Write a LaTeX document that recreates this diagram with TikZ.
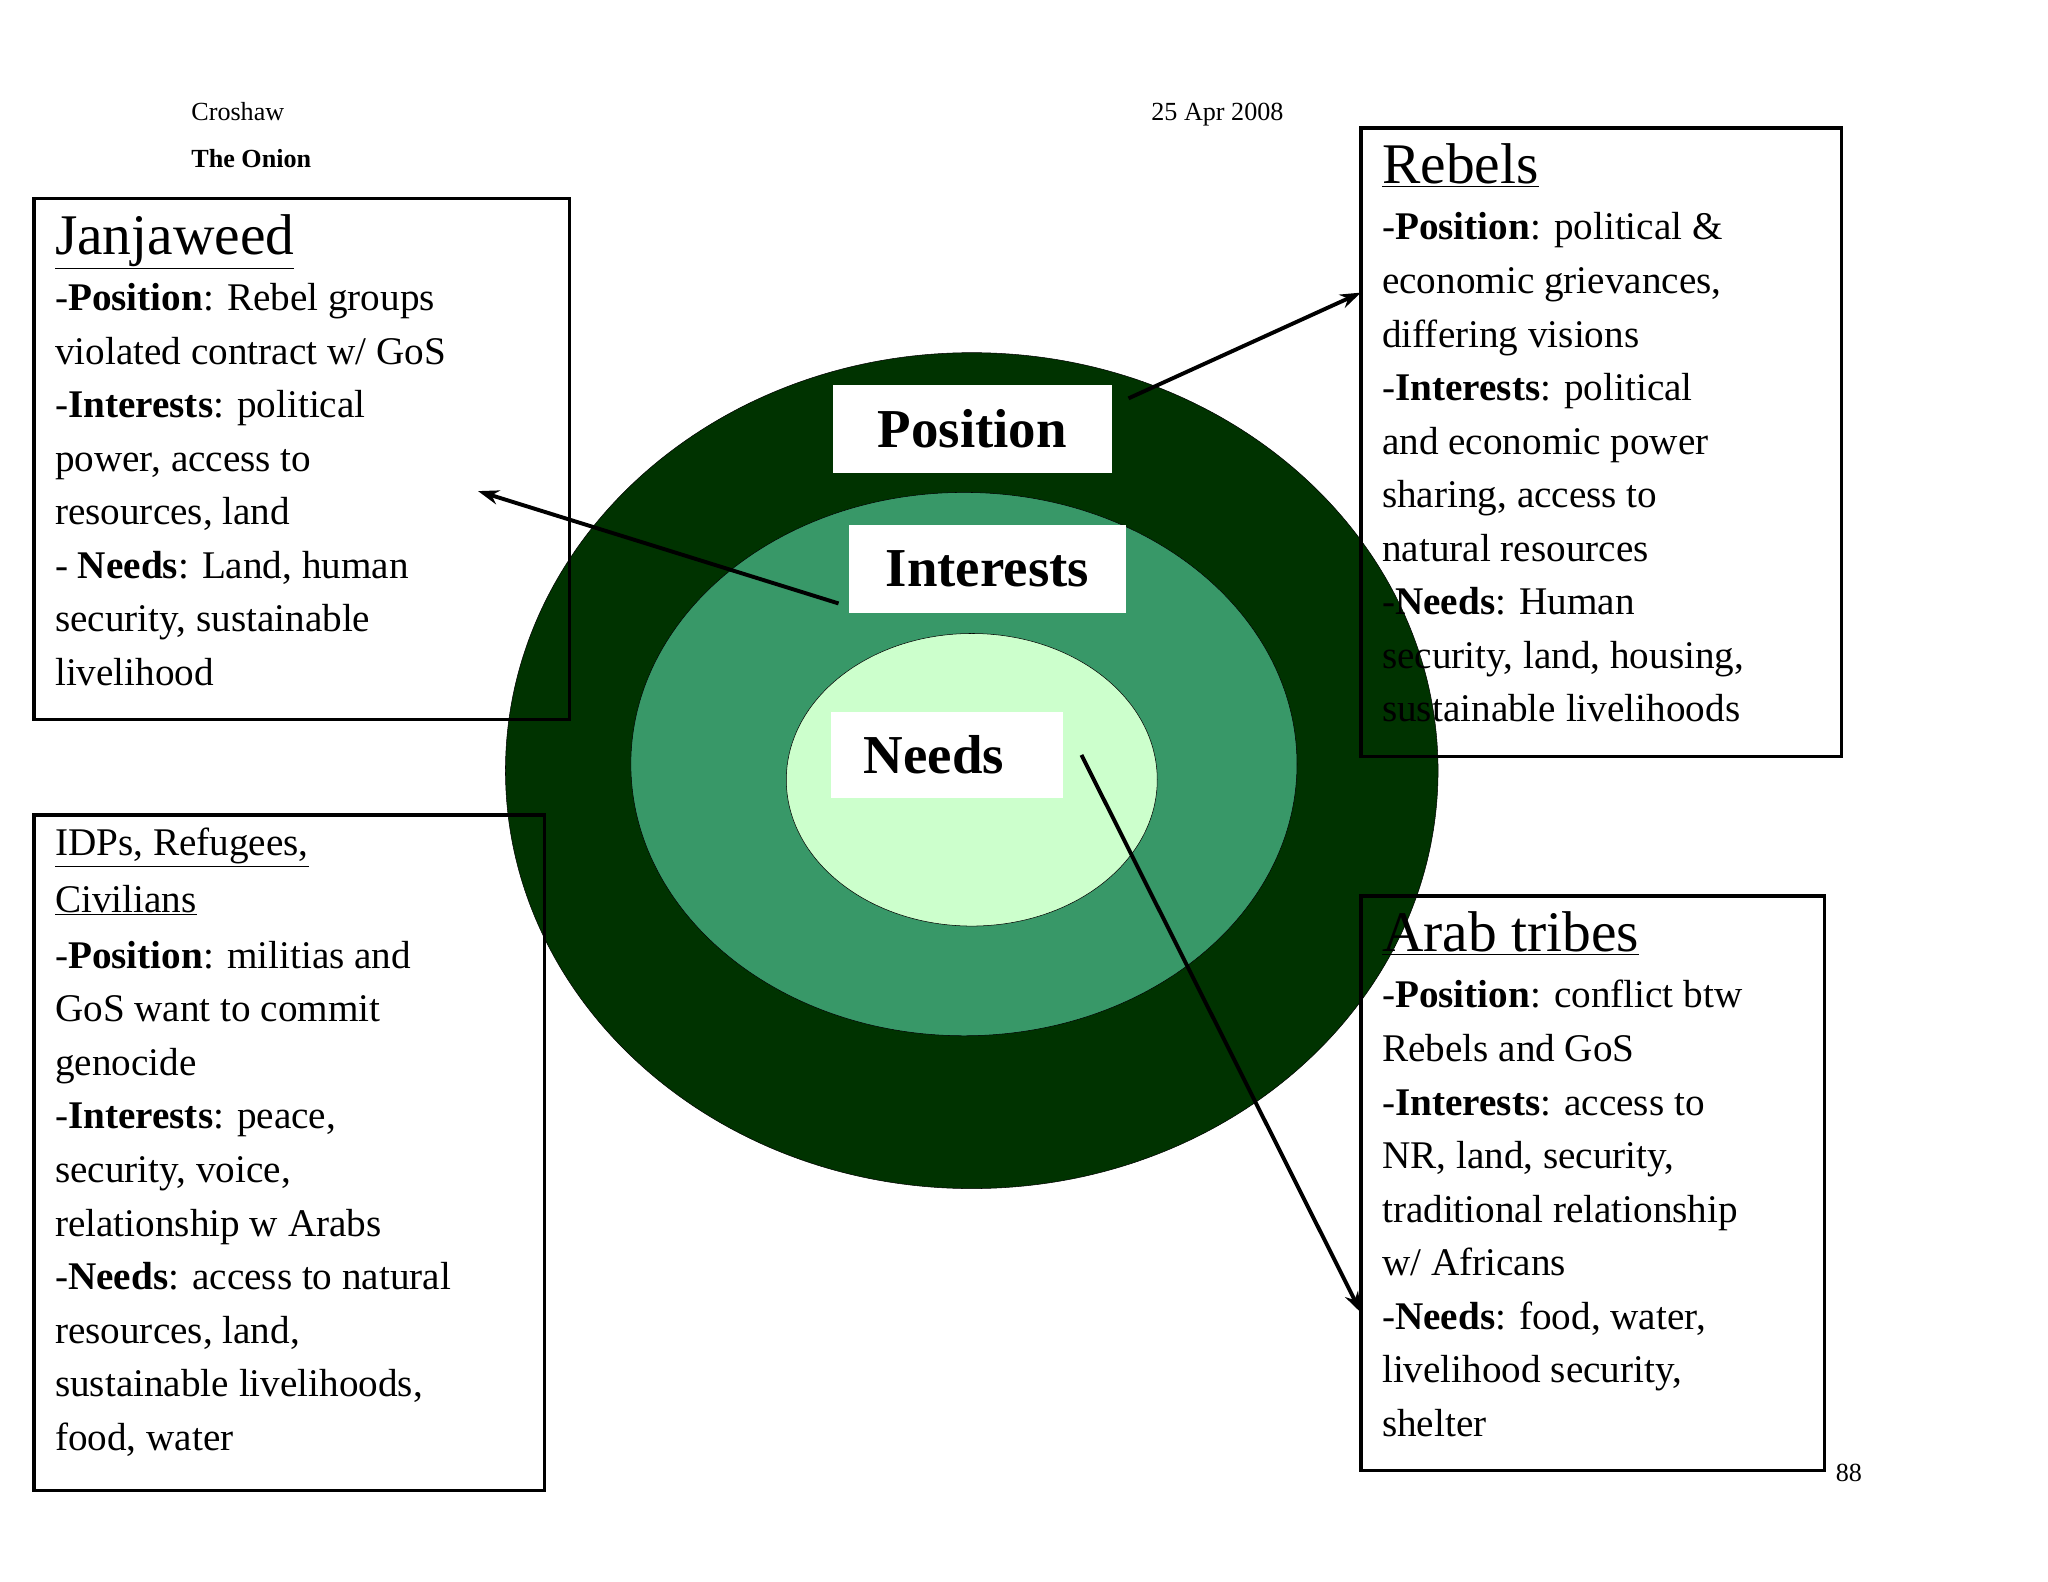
\documentclass[tikz,border=0pt]{standalone}
\usepackage{fontspec}
\setmainfont{Liberation Serif}
\usetikzlibrary{arrows.meta}
\begin{document}
\begin{tikzpicture}[x=1pt,y=-1pt,
  body/.style={anchor=north west,align=left,inner sep=0pt,font=\fontsize{30}{41}\selectfont},
  boxline/.style={draw,line width=2.5pt},
  lbl/.style={fill=white,inner sep=0pt,font=\fontsize{42}{42}\selectfont\bfseries},
  arr/.style={line width=3pt,-{Stealth[length=16pt,width=11pt]}}]
\useasboundingbox (0,0) rectangle (1568,1211);
\fill[white] (0,0) rectangle (1568,1211);
\node[anchor=base west,font=\fontsize{20}{20}\selectfont] (cr) at (143,92) {Croshaw};
\node[anchor=base west,font=\fontsize{20}{20}\selectfont\bfseries] (on) at (143,128) {The Onion};
\node[anchor=base west,font=\fontsize{20}{20}\selectfont] (dt) at (878,92) {25 Apr 2008};
\node[anchor=base west,font=\fontsize{20}{20}\selectfont] (pg) at (1402,1134) {88};
% onion
\draw[fill=green!30!black!95,fill={rgb,255:red,0;green,51;blue,0}] (744,590) ellipse [x radius=357,y radius=320];
\draw[fill={rgb,255:red,56;green,152;blue,104}] (738,585) ellipse [x radius=255,y radius=208];
\draw[fill={rgb,255:red,204;green,255;blue,204}] (744,597) ellipse [x radius=142,y radius=112];
\node[lbl,minimum width=213,minimum height=67] (pos) at (744.5,328.5) {Position};
\node[lbl,minimum width=212,minimum height=67] (int) at (756,435.5) {Interests};
\node[lbl,minimum width=177,minimum height=66] (nee) at (725,578) {\hspace*{-20pt}Needs};
% boxes
\draw[boxline] (26,152) rectangle (436,551);
\node[body] (jj) at (42,164) {{\fontsize{44}{44}\selectfont\underline{Janjaweed}}\\[2pt]
-\textbf{Position}: Rebel groups\\violated contract w/ GoS\\-\textbf{Interests}: political\\power, access to\\resources, land\\- \textbf{Needs}: Land, human\\security, sustainable\\livelihood};
\draw[boxline] (26,624) rectangle (417,1141);
\node[body] (idp) at (42,634) {\underline{IDPs, Refugees,}\\[2pt]\underline{Civilians}\\[2pt]
-\textbf{Position}: militias and\\GoS want to commit\\genocide\\-\textbf{Interests}: peace,\\security, voice,\\relationship w Arabs\\-\textbf{Needs}: access to natural\\resources, land,\\sustainable livelihoods,\\food, water};
\draw[boxline] (1042,98) rectangle (1410,579);
\node[body] (reb) at (1058,110) {{\fontsize{44}{44}\selectfont\underline{Rebels}}\\[2pt]
-\textbf{Position}: political \&\\economic grievances,\\differing visions\\-\textbf{Interests}: political\\and economic power\\sharing, access to\\natural resources\\-\textbf{Needs}: Human\\security, land, housing,\\sustainable livelihoods};
\draw[boxline] (1042,686) rectangle (1397,1126);
\node[body] (arab) at (1058,698) {{\fontsize{44}{44}\selectfont\underline{Arab tribes}}\\[2pt]
-\textbf{Position}: conflict btw\\Rebels and GoS\\-\textbf{Interests}: access to\\NR, land, security,\\traditional relationship\\w/ Africans\\-\textbf{Needs}: food, water,\\livelihood security,\\shelter};
% arrows
\coordinate (a1s) at (642,462); \coordinate (a1e) at (366,376);
\coordinate (a2s) at (864,305); \coordinate (a2e) at (1042,224);
\coordinate (a3s) at (828,578); \coordinate (a3e) at (1042,1005);
\draw[arr] (a1s) -- (a1e);
\draw[arr] (a2s) -- (a2e);
\draw[arr] (a3s) -- (a3e);
\end{tikzpicture}
\end{document}
